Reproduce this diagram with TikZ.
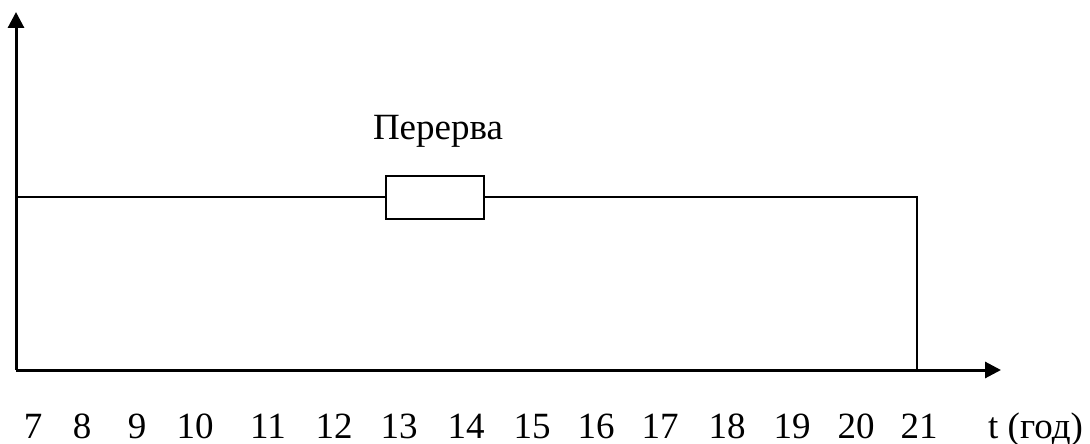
\documentclass[tikz,border=0pt]{standalone}
\usepackage{fontspec}
\setmainfont{Liberation Serif}
\usetikzlibrary{arrows.meta}

\begin{document}
\begin{tikzpicture}[x=1pt, y=-1pt,
    axis/.style={-{Triangle[length=16pt, width=16pt]}, line width=3pt},
    lin/.style={line width=2pt},
    brkbox/.style={draw, line width=2pt, minimum width=98pt, minimum height=43pt, inner sep=0pt},
    lbl/.style={font=\fontsize{37}{42}\selectfont, inner sep=0pt}
]
\useasboundingbox (0,0) rectangle (1090,444);

\coordinate (o) at (16,370);
\coordinate (ytop) at (16,12);
\coordinate (xend) at (1001,370);
\coordinate (wk) at (16,197);
\coordinate (fin) at (917,197);
\coordinate (finb) at (917,370);

\node[brkbox] (brk) at (435,197) {};
\node[lbl, anchor=base] (brklbl) at (438,139) {Перерва};

% axes
\draw[axis] (o) -- (ytop);
\draw[axis] (o) -- (xend);

% working time
\draw[lin] (wk) -- (brk.west);
\draw[lin] (brk.east) -- (fin) -- (finb);

% hours
\foreach \h/\x in {7/33, 8/82, 9/137, 10/195, 11/268, 12/334, 13/399, 14/466,
    15/532, 16/596, 17/660, 18/727, 19/792, 20/856, 21/919}
  \node[lbl, anchor=base] (h\h) at (\x,438) {\h};
\node[lbl, anchor=base west] (tlbl) at (988,438) {t (год)};
\end{tikzpicture}
\end{document}
